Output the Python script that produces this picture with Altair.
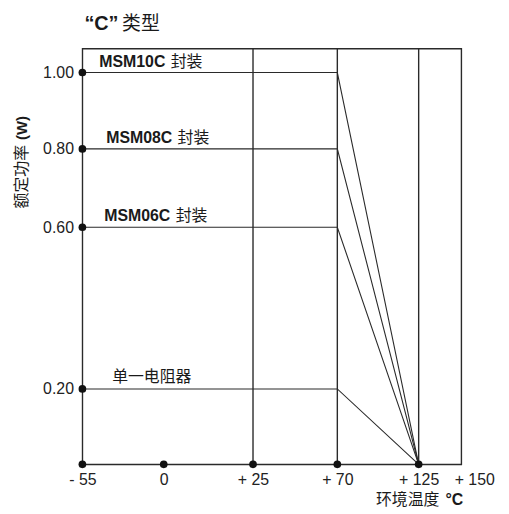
import altair as alt
import pandas as pd

# ---- data ----
series = ["MSM10C", "MSM08C", "MSM06C", "单一电阻器"]
series_suffix = ["封装", "封装", "封装", ""]
power = [1.00, 0.80, 0.60, 0.20]
t_start = -55
t_knee = 70
t_zero = 125
x_ticks = [-55, 0, 25, 70, 125, 150]
y_ticks = [0.20, 0.60, 0.80, 1.00]
grid_temps = [25, 70, 125]
dot_temps = [-55, 0, 25, 70, 125]

# ---- layout ----
W, H = 382, 419
LINE = "#2a2a2a"
LATIN = "Liberation Sans"
CJK = "Noto Sans CJK SC"

xscale = alt.Scale(domain=x_ticks, range=[0, 82, 172, 257, 339, W], nice=False, zero=False)
yscale = alt.Scale(domain=[0, 0.2, 0.6, 0.8, 1.0, 1.062], range=[H, 343, 180, 101, 24, 0],
                   nice=False, zero=False)

rows = []
for s, p in zip(series, power):
    rows.append({"series": s, "t": t_start, "p": p, "o": 0})
    rows.append({"series": s, "t": t_knee, "p": p, "o": 1})
    rows.append({"series": s, "t": t_zero, "p": 0.0, "o": 2})
lines_df = pd.DataFrame(rows)

dots_df = pd.DataFrame(
    [{"t": t_start, "p": p} for p in power] + [{"t": t, "p": 0.0} for t in dot_temps]
)
grid_df = pd.DataFrame({"t": grid_temps})

x_axis = alt.Axis(
    values=x_ticks,
    labelExpr="datum.value < 0 ? '- ' + abs(datum.value) : (datum.value > 0 ? '+ ' + datum.value : '0')",
    labelFont=LATIN, labelFontSize=16, labelColor="#222",
    labelOffset={"condition": {"test": "datum.value == 150", "value": 13}, "value": 0},
    labelOverlap=False, labelFlush=False,
    tickSize=0, labelPadding=7, domain=False, grid=False, title=None,
)
y_axis = alt.Axis(
    values=y_ticks, format=".2f",
    labelFont=LATIN, labelFontSize=16, labelColor="#222",
    labelOverlap=False, labelFlush=False,
    tickSize=0, labelPadding=9, domain=False, grid=False, title=None,
)

X = alt.X("t:Q", scale=xscale, axis=x_axis)
Y = alt.Y("p:Q", scale=yscale, axis=y_axis)

grid = alt.Chart(grid_df).mark_rule(color=LINE, strokeWidth=1.4).encode(
    x=alt.X("t:Q", scale=xscale, axis=x_axis)
)

lines = alt.Chart(lines_df).mark_line(color=LINE, strokeWidth=1.1).encode(
    x=X, y=Y, detail="series:N", order="o:Q"
)

dots = alt.Chart(dots_df).mark_circle(color="#111", size=60, opacity=1).encode(x=X, y=Y)

# series labels (bold part + regular part)
label_dx = [17, 24, 22, 30]
label_layers = []
for s, suf, p, dx in zip(series, series_suffix, power, label_dx):
    d = pd.DataFrame({"t": [t_start], "p": [p], "name": [s], "suf": [suf]})
    if suf:
        label_layers.append(
            alt.Chart(d).mark_text(align="left", baseline="alphabetic", dx=dx, dy=-6,
                                   font=LATIN, fontWeight="bold", fontSize=16, color="#1a1a1a")
            .encode(x=X, y=Y, text="name:N")
        )
        label_layers.append(
            alt.Chart(d).mark_text(align="left", baseline="alphabetic", dx=dx + 72, dy=-6,
                                   font=CJK, fontSize=16, color="#1a1a1a")
            .encode(x=X, y=Y, text="suf:N")
        )
    else:
        label_layers.append(
            alt.Chart(d).mark_text(align="left", baseline="alphabetic", dx=dx, dy=-7,
                                   font=CJK, fontSize=16, color="#1a1a1a")
            .encode(x=X, y=Y, text="name:N")
        )

def txt(text, x, y, **kw):
    return alt.Chart(pd.DataFrame({"v": [text]})).mark_text(**kw).encode(
        x=alt.value(x), y=alt.value(y), text="v:N"
    )

title_c = txt("“C”", 2, -25, align="left", baseline="middle", font=LATIN,
              fontWeight="bold", fontSize=20, color="#1a1a1a")
title_t = txt("类型", 40, -25, align="left", baseline="middle", font=CJK,
              fontSize=19, color="#1a1a1a")

ytitle_a = txt("额定功率", -61, 161, align="left", baseline="middle", angle=270,
               font=CJK, fontSize=16, color="#1a1a1a")
ytitle_b = txt("(W)", -61, 92, align="left", baseline="middle", angle=270,
               font=LATIN, fontWeight="bold", fontSize=15, color="#1a1a1a")

xtitle_a = txt("环境温度", 296, 455, align="left", baseline="middle",
               font=CJK, fontSize=16, color="#1a1a1a")
xtitle_b = txt("°C", 366, 455, align="left", baseline="middle",
               font=LATIN, fontWeight="bold", fontSize=16, color="#1a1a1a")

chart = alt.layer(
    grid, lines, dots, *label_layers,
    title_c, title_t, ytitle_a, ytitle_b, xtitle_a, xtitle_b
).properties(
    width=W, height=H,
    autosize=alt.AutoSizeParams(type="none"),
    padding={"left": 75, "top": 39, "right": 40, "bottom": 47},
    background="white",
).configure_view(stroke=LINE, strokeWidth=1.4)

chart.save("out.html", embed_options={"renderer": "svg", "actions": False})
